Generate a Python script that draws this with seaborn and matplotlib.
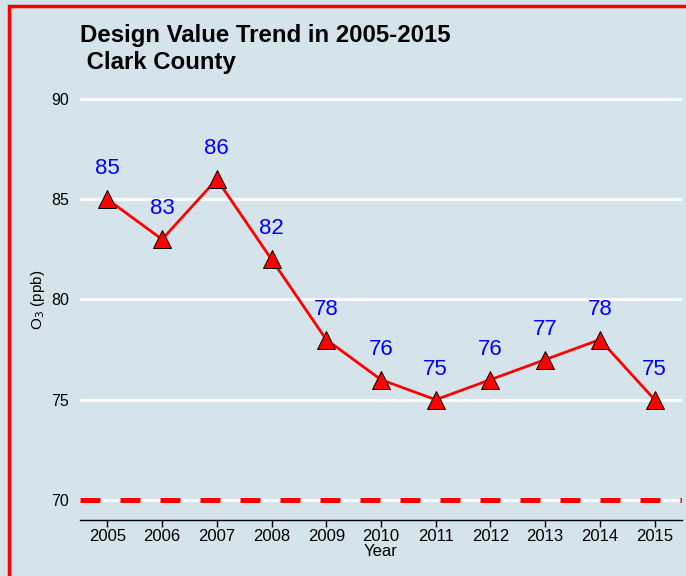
import matplotlib
matplotlib.use('Agg')
import matplotlib.pyplot as plt
from matplotlib.patches import Rectangle
import seaborn as sns
import pandas as pd

years = [2005, 2006, 2007, 2008, 2009, 2010, 2011, 2012, 2013, 2014, 2015]
design_values = [85, 83, 86, 82, 78, 76, 75, 76, 77, 78, 75]
standard = 70
y_ticks = [70, 75, 80, 85, 90]

df = pd.DataFrame({'Year': years, 'O3': design_values})

bg = '#d5e3ea'
sns.set_style('white')
plt.rcParams['font.family'] = ['Liberation Sans', 'DejaVu Sans']
plt.rcParams['text.color'] = 'black'
plt.rcParams['axes.labelcolor'] = 'black'
plt.rcParams['xtick.color'] = 'black'
plt.rcParams['ytick.color'] = 'black'

fig = plt.figure(figsize=(6.86, 5.76), dpi=100, facecolor=bg)
ax = fig.add_axes([80 / 686, 1 - 520 / 576, 602 / 686, 441 / 576])
ax.set_facecolor(bg)

# white horizontal grid
for t in y_ticks:
    ax.axhline(t, color='white', lw=2, zorder=0)

# standard line
ax.axhline(standard, color='red', lw=3.6, linestyle=(0, (4, 4)), zorder=1)

sns.lineplot(data=df, x='Year', y='O3', ax=ax, color='red', lw=2,
             marker='^', markersize=13, markerfacecolor='red',
             markeredgecolor='black', markeredgewidth=0.7, zorder=3)

for x, v in zip(years, design_values):
    ax.annotate(str(v), (x, v), xytext=(0, 22), textcoords='offset points',
                ha='center', va='center', color='blue', fontsize=16)

ax.set_xlim(2004.5, 2015.5)
ax.set_ylim(69, 91)
ax.set_xticks(years)
ax.set_yticks(y_ticks)
ax.tick_params(axis='x', bottom=True, length=5, width=1, color='black',
               labelsize=12, pad=1.5, direction='out')
ax.tick_params(axis='y', length=0, labelsize=11.5, pad=8)
for s in ['top', 'right', 'left']:
    ax.spines[s].set_visible(False)
ax.spines['bottom'].set_color('black')
ax.spines['bottom'].set_linewidth(1)
ax.set_xlabel('Year', fontsize=12, labelpad=0)
ax.set_ylabel('O$_3$ (ppb)', fontsize=11, labelpad=3)

fig.text(80 / 686, 1 - 24 / 576, 'Design Value Trend in 2005-2015\n Clark County',
         ha='left', va='top', fontsize=17.3, fontweight='bold', linespacing=1.25)

# red frame
fig.patches.append(Rectangle((9 / 686, -0.2), 1.5, 1.2 - 6 / 576,
                             transform=fig.transFigure, fill=False,
                             edgecolor='red', lw=2.5))

fig.savefig('out.png', dpi=100, facecolor=bg)
